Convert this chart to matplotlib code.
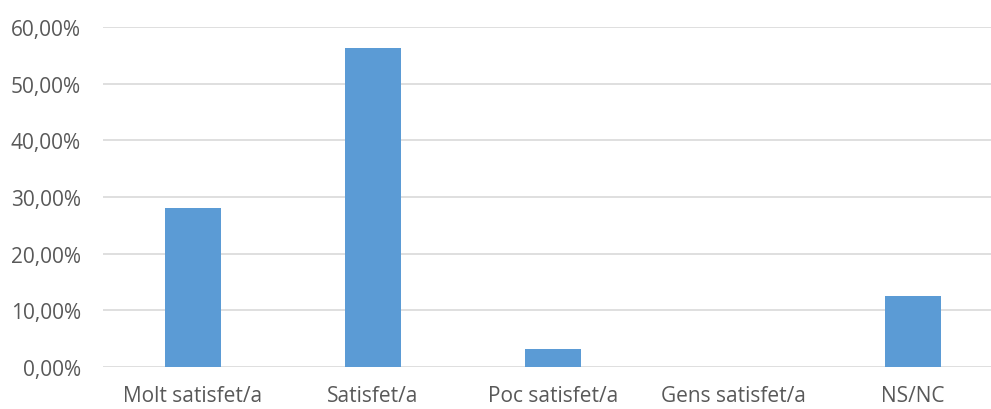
import matplotlib.pyplot as plt
import matplotlib.ticker as ticker

# dades
categories = ['Molt satisfet/a', 'Satisfet/a', 'Poc satisfet/a', 'Gens satisfet/a', 'NS/NC']
percentatges = [28.125, 56.25, 3.125, 0.0, 12.5]
y_ticks = [0, 10, 20, 30, 40, 50, 60]

plt.rcParams['font.family'] = ['Open Sans', 'DejaVu Sans']

fig = plt.figure(figsize=(9.91, 4.10), dpi=100)
ax = fig.add_axes([103 / 991, 1 - 368 / 410, (991 - 103) / 991, (368 - 28) / 410])

x = range(len(categories))
ax.bar(x, percentatges, width=0.31, color='#5b9bd5', zorder=3)

ax.set_ylim(0, 60)
ax.set_xlim(-0.5, 4.5 - 12 / 180)
ax.set_yticks(y_ticks)
ax.yaxis.set_major_formatter(ticker.FuncFormatter(lambda v, p: f'{v:.2f}%'.replace('.', ',')))
ax.set_xticks(list(x))
ax.set_xticklabels(categories)

ax.grid(axis='y', color='#d9d9d9', lw=1.2, zorder=0)
for s in ax.spines.values():
    s.set_visible(False)
ax.tick_params(axis='both', length=0, labelsize=15, colors='#595959')
ax.tick_params(axis='y', pad=16)
ax.tick_params(axis='x', pad=13)

plt.savefig('out.png', dpi=100)
